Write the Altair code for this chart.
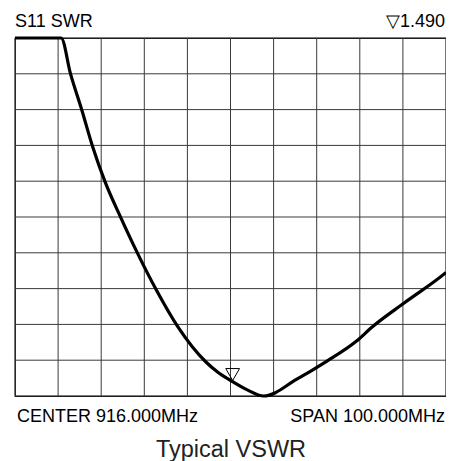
import altair as alt
import pandas as pd

# Frequency (MHz) and SWR trace in screen divisions (0 = bottom, 10 = top)
freq = [866.0, 876.7, 878.9, 881.5, 884.0, 886.9, 890.6, 894.5, 898.8, 903.8,
        910.3, 913.0, 916.5, 919.9, 923.7, 931.4, 938.2, 945.1, 949.0, 956.2,
        965.8, 966.0]
swr_div = [10.0, 10.0, 8.99, 7.99, 6.97, 5.98, 4.97, 3.97, 2.96, 1.93,
           0.95, 0.67, 0.40, 0.17, 0.0, 0.47, 0.96, 1.52, 1.94, 2.59,
           3.43, 3.45]

marker_freq = [916.5]
marker_div = [0.60]

grid_x = [866 + 10 * i for i in range(11)]
grid_y = list(range(11))

top_left = ["S11 SWR"]
top_right = ["\u25bd1.490"]
bottom_left = ["CENTER 916.000MHz"]
bottom_right = ["SPAN 100.000MHz"]
caption = ["Typical VSWR"]

FONT = "Liberation Sans"
W, H = 431, 358

df = pd.DataFrame({"freq": freq, "div": swr_div})
mk = pd.DataFrame({"freq": marker_freq, "div": marker_div})

xs = alt.Scale(domain=[866, 966], nice=False, zero=False)
ys = alt.Scale(domain=[0, 10], nice=False, zero=False)

vgrid = alt.Chart(pd.DataFrame({"g": grid_x})).mark_rule(color="#3a3a3a", strokeWidth=1).encode(
    x=alt.X("g:Q", scale=xs, axis=None))
hgrid = alt.Chart(pd.DataFrame({"g": grid_y})).mark_rule(color="#3a3a3a", strokeWidth=1).encode(
    y=alt.Y("g:Q", scale=ys, axis=None))

line = alt.Chart(df).mark_line(color="black", strokeWidth=3.2, interpolate="monotone",
                               clip=False).encode(
    x=alt.X("freq:Q", scale=xs, axis=None),
    y=alt.Y("div:Q", scale=ys, axis=None),
)

marker = alt.Chart(mk).mark_point(shape="triangle-down", filled=False, color="black",
                                  size=190, strokeWidth=1, opacity=1).encode(
    x=alt.X("freq:Q", scale=xs, axis=None),
    y=alt.Y("div:Q", scale=ys, axis=None),
)


def label(txt, x, y, align, size, color="black"):
    return alt.Chart(pd.DataFrame({"t": txt})).mark_text(
        align=align, baseline="alphabetic", font=FONT, fontSize=size, color=color
    ).encode(text="t:N", x=alt.value(x), y=alt.value(y))


texts = [
    label(top_left, 0, -11, "left", 18),
    label(top_right, 430, -11, "right", 18),
    label(bottom_left, 2, 26 + H, "left", 18),
    label(bottom_right, 430, 26 + H, "right", 18),
    label(caption, 216, 61 + H, "center", 23.5, "#222"),
]

chart = alt.layer(vgrid, hgrid, line, marker, *texts).properties(
    width=W, height=H,
    autosize=alt.AutoSizeParams(type="none"),
    padding={"left": 7, "top": 30, "right": 0, "bottom": 65},
).configure_view(stroke="black", strokeWidth=1.2)

chart.save("out.html", embed_options={"renderer": "svg", "actions": False})
